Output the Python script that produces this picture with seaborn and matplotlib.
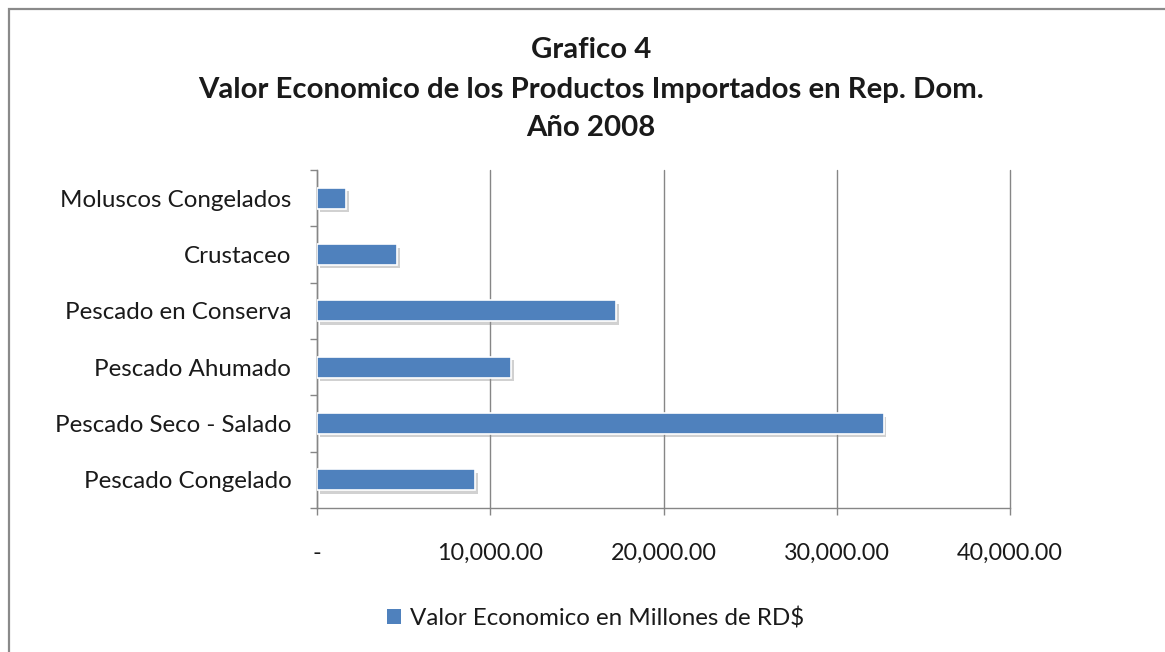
import matplotlib
matplotlib.use("Agg")
import matplotlib.pyplot as plt
import matplotlib.patheffects as pe
from matplotlib.patches import Patch, Rectangle
from matplotlib.ticker import FixedLocator, FuncFormatter
import pandas as pd
import seaborn as sns

# Imported fishery products, Dominican Republic, 2008 (millions of RD$)
categories = [
    "Moluscos Congelados",
    "Crustaceo",
    "Pescado en Conserva",
    "Pescado Ahumado",
    "Pescado Seco - Salado",
    "Pescado Congelado",
]
values = [1680, 4620, 17260, 11200, 32700, 9140]
x_ticks = [0, 10000, 20000, 30000, 40000]
series_name = "Valor Economico en Millones de RD$"
title_lines = [
    "Grafico 4",
    "Valor Economico de los Productos Importados en Rep. Dom.",
    "Año 2008",
]

df = pd.DataFrame({"Producto": categories, "Valor": values})

sns.set_theme(style="white")
plt.rcParams["font.family"] = ["Lato", "DejaVu Sans"]

BAR = "#4F81BD"
GRID = "#868686"
TXT = "#1a1a1a"

fig = plt.figure(figsize=(11.65, 6.52), dpi=100)
fig.patch.set_facecolor("white")

# chart frame
fig.patches.append(Rectangle((8.5 / 1165, -0.05), 1.2, 1 - 8.5 / 652 + 0.05,
                             transform=fig.transFigure, fill=False,
                             edgecolor="#8a8a8a", linewidth=1.6, zorder=0))

ax = fig.add_axes([317 / 1165, 1 - 508 / 652, (1010 - 317) / 1165, (508 - 170) / 652])
sns.barplot(data=df, y="Producto", x="Valor", orient="h", color=BAR,
            width=0.37, saturation=1, ax=ax, zorder=3)

for bar in ax.patches:
    bar.set_edgecolor("white")
    bar.set_linewidth(1.2)
    bar.set_path_effects([
        pe.SimplePatchShadow(offset=(2, -2.5), shadow_rgbFace="#8c8c8c", alpha=0.4),
        pe.Normal(),
    ])

ax.set_xlim(0, 40000)
ax.set_ylim(len(categories) - 0.5, -0.5)
ax.set_xlabel("")
ax.set_ylabel("")

ax.xaxis.set_major_locator(FixedLocator(x_ticks))
ax.xaxis.set_major_formatter(FuncFormatter(lambda v, p: "-" if v == 0 else f"{v:,.2f}"))
ax.grid(axis="x", color=GRID, linewidth=1.0, zorder=0)
for gl in ax.get_xgridlines():
    gl.set_clip_on(False)
ax.grid(axis="y", visible=False)

ax.yaxis.set_minor_locator(FixedLocator([i - 0.5 for i in range(len(categories) + 1)]))
ax.tick_params(axis="y", which="major", length=0, pad=18.5, labelsize=17.4, labelcolor=TXT)
ax.tick_params(axis="y", which="minor", length=5, width=1.0, color=GRID, left=True)
ax.tick_params(axis="x", which="major", length=5, width=1.0, color=GRID, bottom=True,
               pad=20, labelsize=16.8, labelcolor=TXT)

for side in ("top", "right"):
    ax.spines[side].set_visible(False)
for side in ("left", "bottom"):
    ax.spines[side].set_color(GRID)
    ax.spines[side].set_linewidth(1.0)

for line, y in zip(title_lines, [50, 90, 128]):
    fig.text(591 / 1165, 1 - y / 652, line, ha="center", va="center",
             fontsize=21.2, fontweight="bold", color=TXT)

fig.legend(handles=[Patch(facecolor=BAR, edgecolor="none", label=series_name)],
           loc="center", bbox_to_anchor=(596 / 1165, 1 - 618 / 652), frameon=False,
           fontsize=17.4, handlelength=0.55, handleheight=0.55, handletextpad=0.4,
           labelcolor=TXT)

fig.savefig("out.png", dpi=100, facecolor="white")
